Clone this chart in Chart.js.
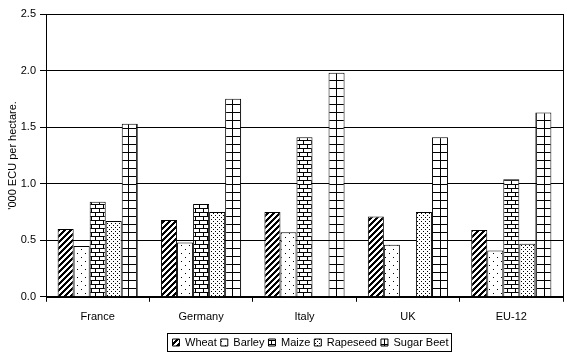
<!DOCTYPE html>
<html>
<head>
<meta charset="utf-8">
<script src="https://cdn.jsdelivr.net/npm/chart.js@4"></script>
<style>
  html, body { margin: 0; padding: 0; background: #fff; }
  #wrap { width: 567px; height: 360px; }
</style>
</head>
<body>
<div id="wrap"><canvas id="chart" width="567" height="360"></canvas></div>
<script>
// Données
const countries = ['France', 'Germany', 'Italy', 'UK', 'EU-12'];
const wheat     = [0.60, 0.68, 0.75, 0.71, 0.59];
const barley    = [0.45, 0.48, 0.57, 0.46, 0.41];
const maize     = [0.84, 0.82, 1.41, null, 1.04];
const rapeseed  = [0.67, 0.75, null, 0.75, 0.47];
const sugarBeet = [1.53, 1.75, 1.98, 1.41, 1.63];
const yTicks    = [0, 0.5, 1.0, 1.5, 2.0, 2.5];

// Motifs (hachures) façon Excel
function makePattern(w, h, draw) {
  const c = document.createElement('canvas');
  c.width = w; c.height = h;
  const g = c.getContext('2d');
  g.fillStyle = '#fff';
  g.fillRect(0, 0, w, h);
  g.fillStyle = '#000';
  draw(g);
  return document.getElementById('chart').getContext('2d').createPattern(c, 'repeat');
}

const pWheat = makePattern(6, 6, g => {
  for (let i = 0; i < 6; i++) {
    g.fillRect(5 - i, i, 3, 1);
    g.fillRect(5 - i - 6, i, 3, 1);
  }
});
const pBarley = makePattern(8, 8, g => {
  g.fillRect(1, 1, 1, 1);
  g.fillRect(5, 5, 1, 1);
});
const pMaize = makePattern(8, 8, g => {
  g.fillRect(0, 0, 8, 1);
  g.fillRect(0, 4, 8, 1);
  g.fillRect(3, 0, 1, 4);
  g.fillRect(7, 4, 1, 4);
});
const pRape = makePattern(4, 4, g => {
  g.fillRect(1, 1, 1, 1);
  g.fillRect(3, 3, 1, 1);
});
const pSugar = makePattern(8, 8, g => {
  g.fillRect(0, 0, 8, 1);
  g.fillRect(0, 0, 1, 8);
});

// Cadre autour de la zone de tracé et de la légende
const framePlugin = {
  id: 'frame',
  afterLayout(chart) {
    // décale la légende pour la centrer sous la zone de tracé
    const a = chart.chartArea;
    const dx = (a.left + a.right) / 2 - chart.width / 2 + 6;
    chart.legend.left += dx;
    chart.legend.right += dx;
  },
  afterDraw(chart) {
    const ctx = chart.ctx;
    const a = chart.chartArea;
    ctx.save();
    ctx.strokeStyle = '#000';
    ctx.lineWidth = 1;
    ctx.strokeRect(Math.round(a.left) + 0.5, Math.round(a.top) + 0.5,
                   Math.round(a.right - a.left), Math.round(a.bottom - a.top));
    const boxes = chart.legend.legendHitBoxes;
    if (boxes && boxes.length) {
      const x0 = Math.min(...boxes.map(b => b.left)) - 5;
      const x1 = Math.max(...boxes.map(b => b.left + b.width)) + 3;
      const y0 = Math.min(...boxes.map(b => b.top)) - 4;
      const y1 = Math.max(...boxes.map(b => b.top + b.height)) + 3;
      ctx.strokeRect(Math.round(x0) + 0.5, Math.round(y0) + 0.5,
                     Math.round(x1 - x0), Math.round(y1 - y0));
    }
    ctx.restore();
  }
};

const font = { family: "'Liberation Sans', Arial, sans-serif", size: 11 };

function ds(label, data, pattern) {
  return {
    label: label,
    data: data,
    backgroundColor: pattern,
    borderColor: '#000',
    borderWidth: 1,
    borderSkipped: 'bottom'
  };
}

new Chart(document.getElementById('chart'), {
  type: 'bar',
  data: {
    labels: countries,
    datasets: [
      ds('Wheat', wheat, pWheat),
      ds('Barley', barley, pBarley),
      ds('Maize', maize, pMaize),
      ds('Rapeseed', rapeseed, pRape),
      ds('Sugar Beet', sugarBeet, pSugar)
    ]
  },
  options: {
    responsive: false,
    animation: false,
    devicePixelRatio: 1,
    layout: { padding: { left: 4, right: 4, top: 14, bottom: 2 } },
    datasets: { bar: { barPercentage: 1.0, categoryPercentage: 0.775 } },
    scales: {
      x: {
        grid: { display: true, drawOnChartArea: false, color: '#000', tickLength: 5, offset: true },
        border: { color: '#000' },
        ticks: { color: '#000', font: font, padding: 9 }
      },
      y: {
        min: 0,
        max: 2.5,
        afterBuildTicks: axis => { axis.ticks = yTicks.map(v => ({ value: v })); },
        afterFit: axis => { axis.width = 42; },
        grid: { color: '#000', tickLength: 6 },
        border: { color: '#000' },
        ticks: { color: '#000', font: font, padding: 4, callback: v => Number(v).toFixed(1) },
        title: { display: true, text: "'000 ECU per hectare.", color: '#000', font: font, padding: 2 }
      }
    },
    plugins: {
      legend: {
        position: 'bottom',
        labels: {
          color: '#000',
          font: font,
          boxWidth: 7,
          boxHeight: 7,
          padding: 4
        }
      },
      tooltip: { enabled: false }
    }
  },
  plugins: [framePlugin]
});
</script>
</body>
</html>
